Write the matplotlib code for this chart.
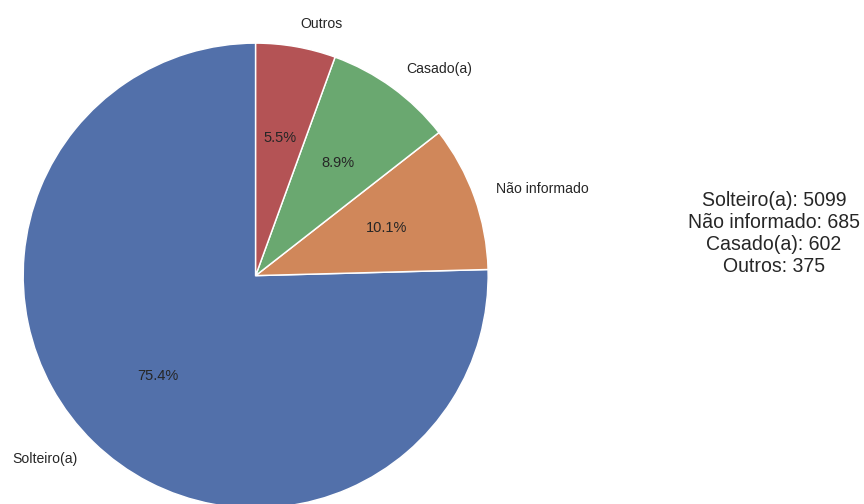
import matplotlib
matplotlib.use("Agg")
import matplotlib.pyplot as plt
import seaborn as sns

# estado civil dos candidatos
categorias = ["Solteiro(a)", "Não informado", "Casado(a)", "Outros"]
quantidades = [5099, 685, 602, 375]

sns.set_theme(style="white")
plt.rcParams["font.family"] = ["Liberation Sans", "DejaVu Sans"]
cores = ["#5270AA", "#D0875A", "#6AA870", "#B45355"]

fig = plt.figure(figsize=(12, 7), dpi=72)
# eixo maior que a figura: a pizza fica cortada embaixo
ax = fig.add_axes([-0.0405, -0.1235, 0.6728, 1.1533])
ax.pie(quantidades, labels=categorias, colors=cores, autopct="%1.1f%%",
       startangle=90, wedgeprops={"edgecolor": "white", "linewidth": 1.5},
       textprops={"fontsize": 14, "color": ".15"})
for t in ax.texts:
    if t.get_text().endswith("%"):
        t.set_fontsize(14.6)
ax.set_xlim(-1.25, 1.25)
ax.set_ylim(-1.25, 1.25)
ax.set_aspect("equal")

resumo = "\n".join(f"{c}: {q}" for c, q in zip(categorias, quantidades))
fig.text(774 / 864, 1 - 233 / 504, resumo, ha="center", va="center",
         fontsize=19.5, color=".15")

plt.savefig("out.png", dpi=72)
